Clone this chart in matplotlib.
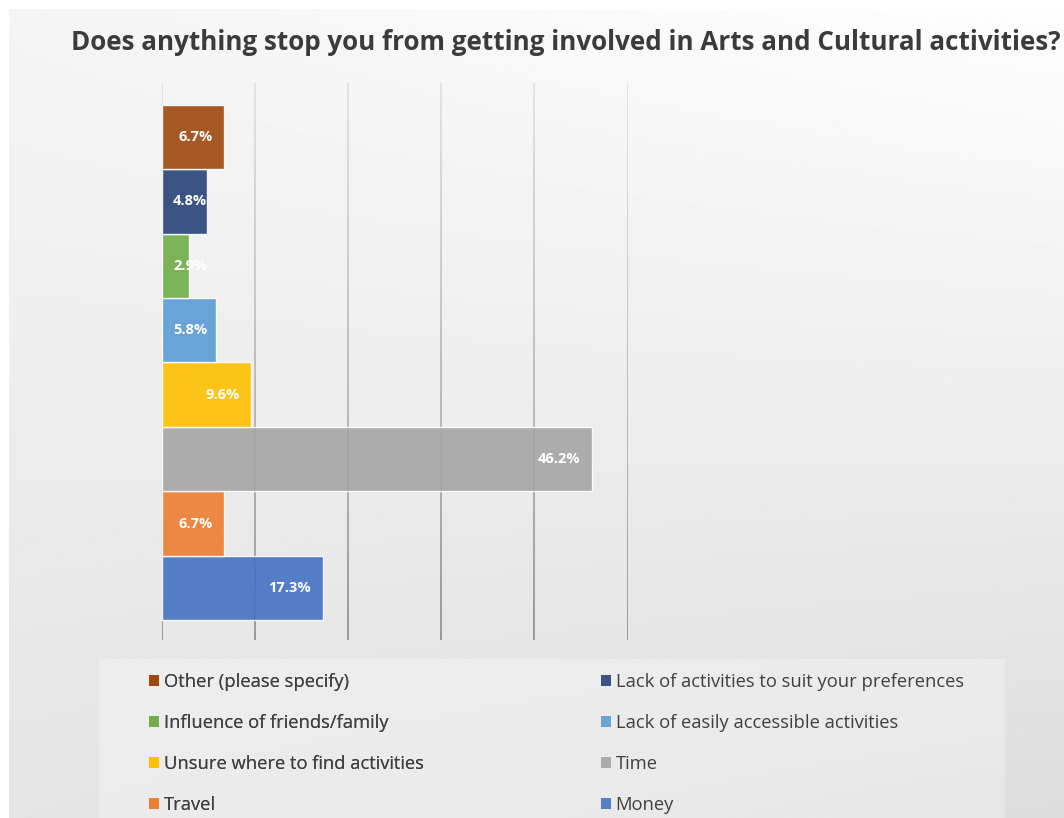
import matplotlib
matplotlib.use("Agg")
import matplotlib.pyplot as plt
import numpy as np
from matplotlib.collections import LineCollection
from matplotlib.patches import Rectangle

plt.rcParams['font.family'] = ['Open Sans', 'DejaVu Sans']

# survey answers, bottom bar first
categories = ["Money", "Travel", "Time", "Unsure where to find activities",
              "Lack of easily accessible activities", "Influence of friends/family",
              "Lack of activities to suit your preferences", "Other (please specify)"]
values = [17.3, 6.7, 46.2, 9.6, 5.8, 2.9, 4.8, 6.7]
colors = ["#4472C4", "#ED7D31", "#A5A5A5", "#FFC000",
          "#5B9BD5", "#70AD47", "#264478", "#9E480E"]
title = "Does anything stop you from getting involved in Arts and Cultural activities?"

W, H = 1064, 818
fig = plt.figure(figsize=(W / 100, H / 100), dpi=100, facecolor="white")

# soft grey backdrop behind the chart area
bg = fig.add_axes([9 / W, 0, 1 - 9 / W, 1 - 9 / H], zorder=-10)
gx, gy = np.meshgrid(np.linspace(0, 1, 300), np.linspace(0, 1, 300))
shade = 0.995 - 0.10 * (1 - gy) - 0.03 * (1 - gy) * gx - 0.035 * (1 - gx) * gy
bg.imshow(shade, cmap="gray", vmin=0, vmax=1, origin="lower", aspect="auto",
          extent=(0, 1, 0, 1), interpolation="bilinear")
bg.axis("off")

# lighter panel under the legend
fig.patches.append(Rectangle((99 / W, 0), (1005 - 99) / W, (H - 659) / H,
                             transform=fig.transFigure, facecolor="white",
                             alpha=0.3, edgecolor="none", zorder=-5))

ax = fig.add_axes([162 / W, 1 - 640 / H, 465.5 / W, 557 / H])
ax.set_facecolor("none")
ylo, yhi = -0.807, 7.838
ax.set_xlim(0, 50)
ax.set_ylim(ylo, yhi)

pos = np.arange(len(categories))
bars = ax.barh(pos, values, height=1.0, color=colors, alpha=0.9,
               edgecolor="white", linewidth=1.0, zorder=2)

# vertical gridlines fading from light at the top to darker at the bottom
ticks = np.arange(0, 51, 10)
nseg = 60
ys = np.linspace(ylo, yhi, nseg + 1)
segs, cols = [], []
for t in ticks:
    for k in range(nseg):
        segs.append([(t, ys[k]), (t, ys[k + 1])])
        g = 0.55 + 0.33 * (k / nseg)
        cols.append((g, g, g))
ax.add_collection(LineCollection(segs, colors=cols, linewidths=1.2, zorder=1))

for s in ax.spines.values():
    s.set_visible(False)
ax.set_xticks([])
ax.set_yticks([])

fig.text(566 / W, 1 - 50 / H, title, ha="center", va="baseline",
         fontsize=18.7, fontweight="bold", color="#3b3b3b")

# value labels inside the bar ends
labels = []
for p, v in zip(pos, values):
    labels.append(ax.text(v, p, f"{v:.1f}%", ha="left", va="center",
                          fontsize=10.5, fontweight="bold", color="white", zorder=3))

fig.canvas.draw()
renderer = fig.canvas.get_renderer()
x0_px = ax.transData.transform((0, 0))[0]
for txt, p, v in zip(labels, pos, values):
    w = txt.get_window_extent(renderer).width
    end_px = ax.transData.transform((v, p))[0]
    left_px = max(end_px - 12 - w, x0_px + 11)
    txt.set_x(ax.transData.inverted().transform((left_px, 0))[0])

# legend in two columns, read row by row
handles = [Rectangle((0, 0), 1, 1, facecolor=c, alpha=0.9, edgecolor="none") for c in colors]
left_col = [7, 5, 3, 1]
right_col = [6, 4, 2, 0]
leg_kw = dict(loc="upper left", frameon=False, fontsize=13.2, borderpad=0,
              borderaxespad=0, handlelength=0.55, handleheight=0.55,
              handletextpad=0.25, labelspacing=1.26, labelcolor="#404040")
leg1 = fig.legend([handles[i] for i in left_col], [categories[i] for i in left_col],
                  bbox_to_anchor=(149 / W, 1 - 673 / H), **leg_kw)
fig.add_artist(leg1)
fig.legend([handles[i] for i in right_col], [categories[i] for i in right_col],
           bbox_to_anchor=(601 / W, 1 - 673 / H), **leg_kw)

fig.savefig("out.png", dpi=100)
